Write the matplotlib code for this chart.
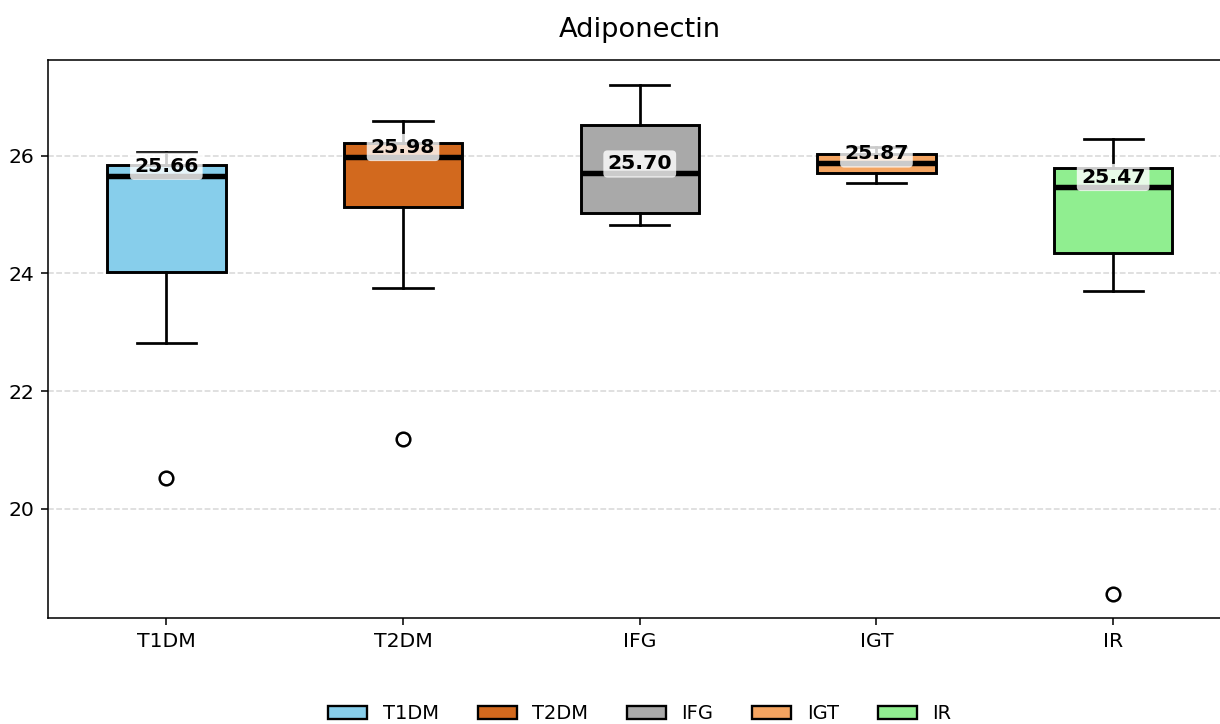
import matplotlib
matplotlib.use("Agg")
import matplotlib.pyplot as plt
from matplotlib.patches import Patch

categories = ["T1DM", "T2DM", "IFG", "IGT", "IR"]
colors = ["#87CEEB", "#D2691E", "#A9A9A9", "#F4A460", "#90EE90"]
q1 = [24.02, 25.13, 25.02, 25.71, 24.34]
q3 = [25.85, 26.22, 26.52, 26.03, 25.79]
medians = [25.66, 25.98, 25.70, 25.87, 25.47]
whisker_low = [22.82, 23.75, 24.83, 25.54, 23.70]
whisker_high = [26.07, 26.60, 27.21, 26.15, 26.29]
outliers = [[20.52], [21.18], [], [], [18.54]]

fig = plt.figure(figsize=(1220 / 140, 724 / 140), dpi=140)
ax = fig.add_axes([48 / 1220, 106 / 724, (1231.5 - 48) / 1220, (664 - 106) / 724])

stats = []
for i, name in enumerate(categories):
    stats.append(dict(label=name, med=medians[i], q1=q1[i], q3=q3[i],
                      whislo=whisker_low[i], whishi=whisker_high[i], fliers=outliers[i]))

bp = ax.bxp(stats, positions=range(1, len(categories) + 1), widths=0.5, patch_artist=True,
            boxprops=dict(linewidth=1.5, edgecolor="black"),
            medianprops=dict(color="black", linewidth=2.8),
            whiskerprops=dict(color="black", linewidth=1.4),
            capprops=dict(color="black", linewidth=1.4),
            flierprops=dict(marker="o", markerfacecolor="white", markeredgecolor="black",
                            markersize=7, markeredgewidth=1.3))
for patch, c in zip(bp["boxes"], colors):
    patch.set_facecolor(c)

for i, m in enumerate(medians):
    ax.text(i + 1, m, f"{m:.2f}", ha="center", va="bottom", fontsize=10.5, fontweight="bold",
            zorder=10,
            bbox=dict(boxstyle="round,pad=0.2", facecolor="white", edgecolor="none", alpha=0.8))

ax.set_xlim(0.5, 5.5)
ax.set_ylim(18.14, 27.63)
ax.set_yticks([20, 22, 24, 26])
ax.tick_params(labelsize=10.5)
ax.yaxis.grid(True, linestyle="--", color="lightgray", linewidth=0.8, alpha=0.9)
ax.set_axisbelow(True)
ax.set_title("Adiponectin", fontsize=14, pad=12)

handles = [Patch(facecolor=c, edgecolor="black", linewidth=1.2, label=n)
           for n, c in zip(categories, colors)]
ax.legend(handles=handles, loc="center", bbox_to_anchor=(0.5, -0.172), ncol=5, frameon=False,
          fontsize=10)

fig.savefig("out.png", dpi=140)
